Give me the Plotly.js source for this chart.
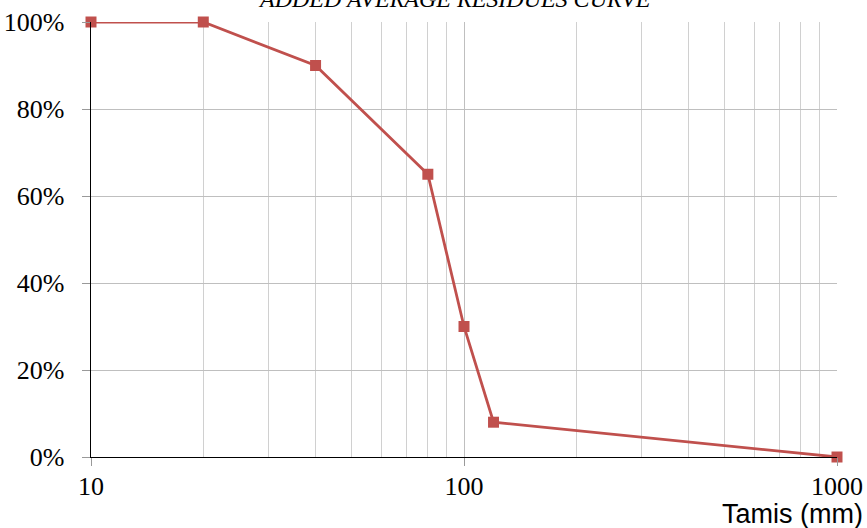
<!DOCTYPE html>
<html>
<head>
<meta charset="utf-8">
<script src="https://cdn.plot.ly/plotly-3.0.1.min.js"></script>
<style>html,body{margin:0;padding:0;background:#fff;}#chart{width:867px;height:528px;}</style>
</head>
<body>
<div id="chart"></div>
<script>
var sieveSizes = [10, 20, 40, 80, 100, 120, 1000];
var passingPct = [100, 100, 90, 65, 30, 8, 0];
var chartTitle = "ADDED AVERAGE RESIDUES CURVE";
var xAxisTitle = "Tamis (mm)";
var xTickVals = [10, 100, 1000];
var xTickText = ["10", "100", "1000"];
var yTickVals = [0, 20, 40, 60, 80, 100];
var yTickText = ["0%", "20%", "40%", "60%", "80%", "100%"];

var serif = "Liberation Serif, Times New Roman, serif";

var trace = {
  x: sieveSizes,
  y: passingPct,
  type: "scatter",
  mode: "lines+markers",
  line: {color: "#C0504D", width: 2.8},
  marker: {symbol: "square", size: 11, color: "#C0504D"},
  cliponaxis: false,
  hoverinfo: "x+y"
};

var layout = {
  width: 867,
  height: 528,
  margin: {l: 91, r: 30, t: 22, b: 71},
  paper_bgcolor: "#ffffff",
  plot_bgcolor: "#ffffff",
  showlegend: false,
  xaxis: {
    type: "log",
    range: [1, 3],
    tickvals: xTickVals,
    ticktext: xTickText,
    showline: true, linecolor: "#000", linewidth: 1.3,
    ticks: "outside", ticklen: 8, tickcolor: "#999", tickwidth: 1,
    ticklabelstandoff: -3,
    showgrid: true, gridcolor: "#BFBFBF", gridwidth: 1,
    minor: {tickvals: [20,30,40,50,60,70,80,90,200,300,400,500,600,700,800,900], showgrid: true, gridcolor: "#D0D0D0", gridwidth: 1, ticks: ""},
    tickfont: {family: serif, size: 26, color: "#000"},
    zeroline: false
  },
  yaxis: {
    range: [0, 100],
    tickvals: yTickVals,
    ticktext: yTickText,
    showline: true, linecolor: "#000", linewidth: 1.3,
    ticks: "outside", ticklen: 8, tickcolor: "#999", tickwidth: 1,
    ticklabelstandoff: 12,
    showgrid: true, gridcolor: "#BFBFBF", gridwidth: 1,
    tickfont: {family: serif, size: 26, color: "#000"},
    zeroline: false
  },
  annotations: [{
    text: "<i>" + chartTitle + "</i>",
    xref: "paper", yref: "paper",
    x: 0.487, y: 1.053,
    xanchor: "center", yanchor: "middle",
    showarrow: false,
    font: {family: serif, size: 24, color: "#000"}
  }, {
    text: xAxisTitle,
    xref: "paper", yref: "paper",
    x: 1.0375, y: -0.131,
    xanchor: "right", yanchor: "middle",
    showarrow: false,
    font: {family: "Liberation Sans, Arial, sans-serif", size: 27, color: "#000"}
  }]
};

Plotly.newPlot("chart", [trace], layout, {displayModeBar: false, staticPlot: true});
</script>
</body>
</html>
